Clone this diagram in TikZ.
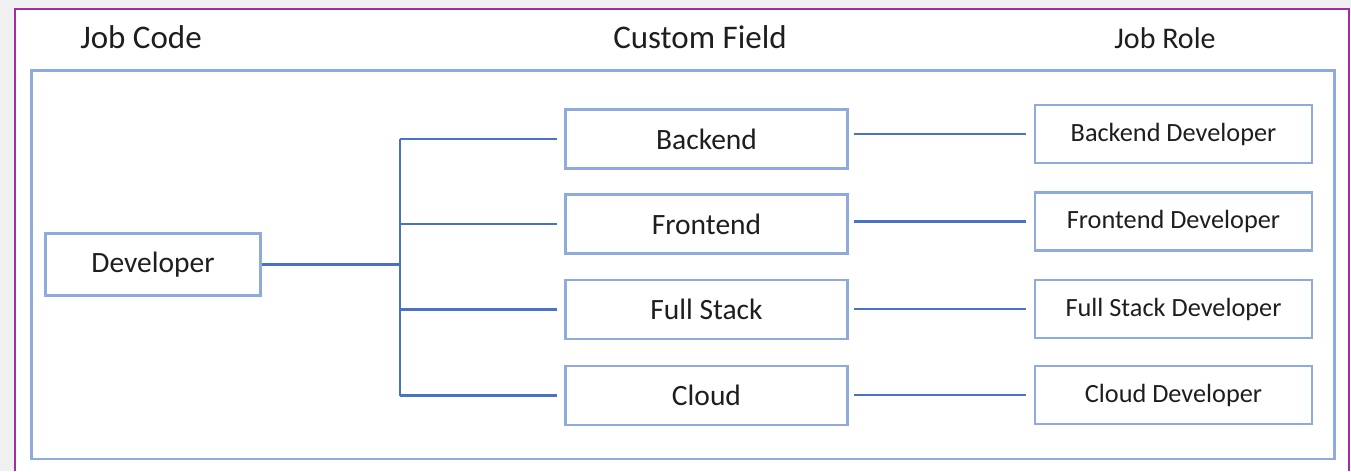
\documentclass[tikz,border=0pt]{standalone}
\usepackage{fontspec}
\setmainfont{Carlito}
\usepackage{tikz}
\usetikzlibrary{positioning}
\usepackage{xcolor}
\definecolor{boxblue}{RGB}{143,170,220}
\definecolor{lineblue}{RGB}{72,114,196}
\definecolor{framepurple}{RGB}{168,42,172}
\definecolor{inkgray}{RGB}{30,30,30}

\begin{document}
\begin{tikzpicture}[x=1pt,y=-1pt,
  field/.style={draw=boxblue, line width=2.5pt, text=inkgray, inner sep=0pt,
    minimum width=282pt, minimum height=59pt, font=\fontsize{29.5}{34}\selectfont},
  role/.style={draw=boxblue, line width=2.5pt, text=inkgray, inner sep=0pt,
    minimum width=277pt, minimum height=58pt, font=\fontsize{26.3}{30}\selectfont},
  head/.style={text=inkgray, inner sep=0pt},
  link/.style={draw=lineblue, line width=2.2pt}]
  \useasboundingbox (0,0) rectangle (1351,471);
  % Window frame
  \fill[gray!12] (0,0) rectangle (1351,471);
  \fill[white] (14,8) rectangle (1351,471);
  \draw[framepurple, line width=2pt] (15,471) -- (15,8.5) -- (1348.5,8.5) -- (1348.5,471);
  \draw[boxblue, line width=2.5pt] (31.5,70.5) rectangle (1334.5,459);
  % Column titles
  \node[head, font=\fontsize{33}{38}\selectfont] (hcode) at (141,37) {Job Code};
  \node[head, font=\fontsize{33}{38}\selectfont] (hfield) at (700,37) {Custom Field};
  \node[head, font=\fontsize{30}{35}\selectfont] (hrole) at (1165,38) {Job Role};
  % Job code
  \node[field, minimum width=215pt, minimum height=62pt] (dev) at (153,264.5) {Developer};
  \coordinate (tr) at (400,264.5);
  \draw[link] (dev.east) -- (dev.east -| tr);
  % Custom fields and job roles
  \foreach \name/\ya/\yb [count=\i] in {Backend/139/134, Frontend/224/221.5, Full Stack/309.5/309, Cloud/395.5/395} {
    \node[field] (f\i) at (706.5,\ya) {\name};
    \node[role] (r\i) at (1173.5,\yb) {\name{} Developer};
    \draw[link, shorten >=7pt] (f\i.west -| tr) -- (f\i.west);
    \draw[link, shorten <=5pt, shorten >=8pt] (f\i.east |- r\i.west) -- (r\i.west);
  }
  \draw[link] (f1.west -| tr) -- (f4.west -| tr);
\end{tikzpicture}
\end{document}
